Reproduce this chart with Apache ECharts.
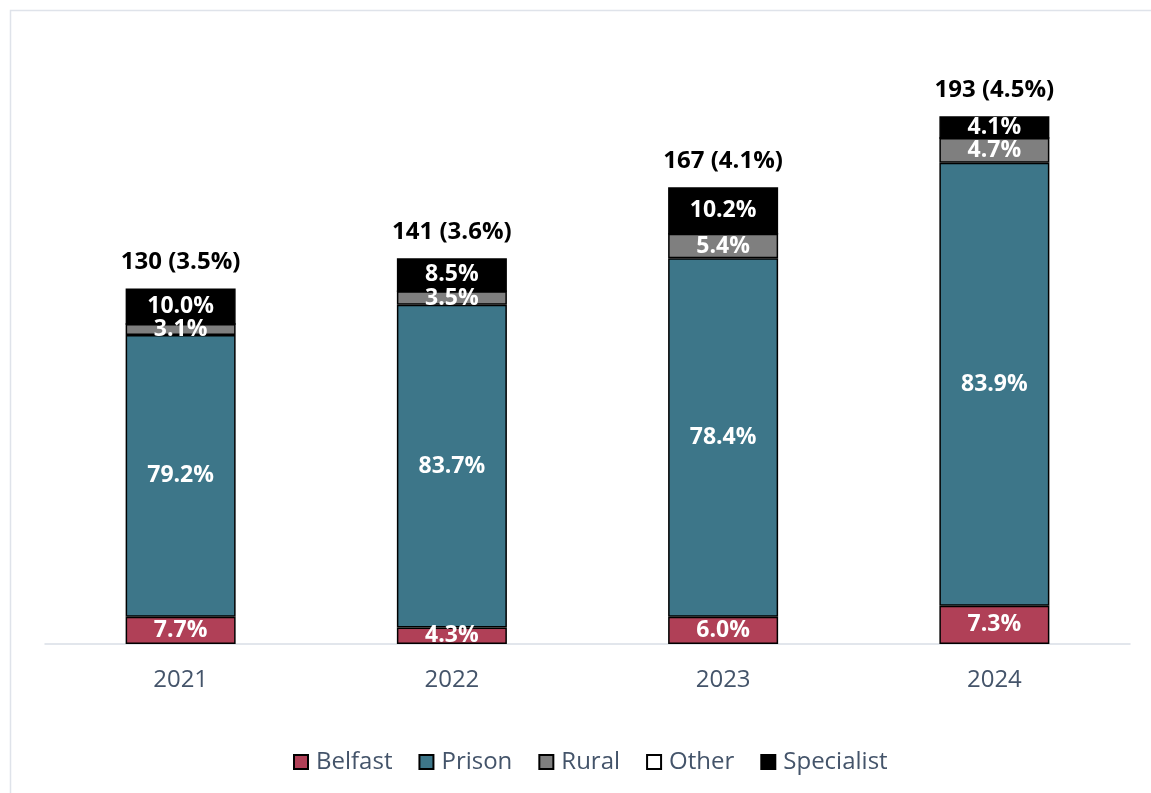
<!DOCTYPE html>
<html>
<head>
<meta charset="utf-8">
<style>
  html, body { margin: 0; padding: 0; background: #fff; }
  #chart { width: 1151px; height: 793px; }
</style>
<script src="https://cdn.jsdelivr.net/npm/echarts@6/dist/echarts.min.js"></script>
</head>
<body>
<div id="chart"></div>
<script>
// categories and counts per location
const years = ['2021', '2022', '2023', '2024']
const belfast = [10, 6, 10, 14]
const prison = [103, 118, 131, 162]
const rural = [4, 5, 9, 9]
const other = [0, 0, 0, 0]
const specialist = [13, 12, 17, 8]
const totals = [130, 141, 167, 193]
const totalShare = ['3.5%', '3.6%', '4.1%', '4.5%']

const font = '"Open Sans", "Liberation Sans", sans-serif'
const axisColor = '#44546a'

let chart = echarts.init(document.getElementById('chart'))

function pctLabel(p) {
    return (p.value / totals[p.dataIndex] * 100).toFixed(1) + '%'
}

function segment(name, data, color) {
    return {
        name: name,
        type: 'bar',
        stack: 'all',
        barWidth: 110,
        data: data,
        itemStyle: {
            color: color,
            borderColor: '#000',
            borderWidth: 1.5
        },
        label: {
            show: name !== 'Other',
            position: 'inside',
            color: '#fff',
            fontFamily: font,
            fontWeight: 'bold',
            fontSize: 23,
            formatter: pctLabel
        },
        emphasis: { disabled: true }
    }
}

chart.setOption({
    animation: false,
    graphic: [{
        type: 'rect',
        shape: { x: 10.5, y: 10.5, width: 1160, height: 800 },
        style: { fill: 'none', stroke: '#dfe3ea', lineWidth: 1.5 },
        silent: true
    }],
    grid: {
        left: 45,
        right: 21,
        top: 97,
        bottom: 149
    },
    legend: {
        data: ['Belfast', 'Prison', 'Rural', 'Other', 'Specialist'],
        bottom: 14,
        left: 288,
        itemWidth: 14,
        itemHeight: 14,
        itemGap: 26,
        icon: 'rect',
        textStyle: {
            color: axisColor,
            fontFamily: font,
            fontSize: 24,
            padding: [0, 0, 0, 3]
        }
    },
    xAxis: {
        type: 'category',
        data: years,
        axisLine: { lineStyle: { color: '#d9dee6', width: 1.5 } },
        axisTick: { show: false },
        axisLabel: {
            color: axisColor,
            fontFamily: font,
            fontSize: 24,
            margin: 24
        }
    },
    yAxis: {
        type: 'value',
        min: 0,
        max: 200,
        show: false,
        splitLine: { show: false }
    },
    series: [
        segment('Belfast', belfast, '#b04057'),
        segment('Prison', prison, '#3d7689'),
        segment('Rural', rural, '#7f7f7f'),
        segment('Other', other, '#ffffff'),
        segment('Specialist', specialist, '#000000'),
        {
            name: 'Total',
            type: 'bar',
            stack: 'all',
            barWidth: 110,
            data: other,
            itemStyle: { color: 'transparent', borderWidth: 0 },
            label: {
                show: true,
                position: 'top',
                distance: 14,
                color: '#000',
                fontFamily: font,
                fontWeight: 'bold',
                fontSize: 24,
                formatter: function (p) {
                    return totals[p.dataIndex] + ' (' + totalShare[p.dataIndex] + ')'
                }
            },
            emphasis: { disabled: true }
        }
    ]
})
</script>
</body>
</html>
